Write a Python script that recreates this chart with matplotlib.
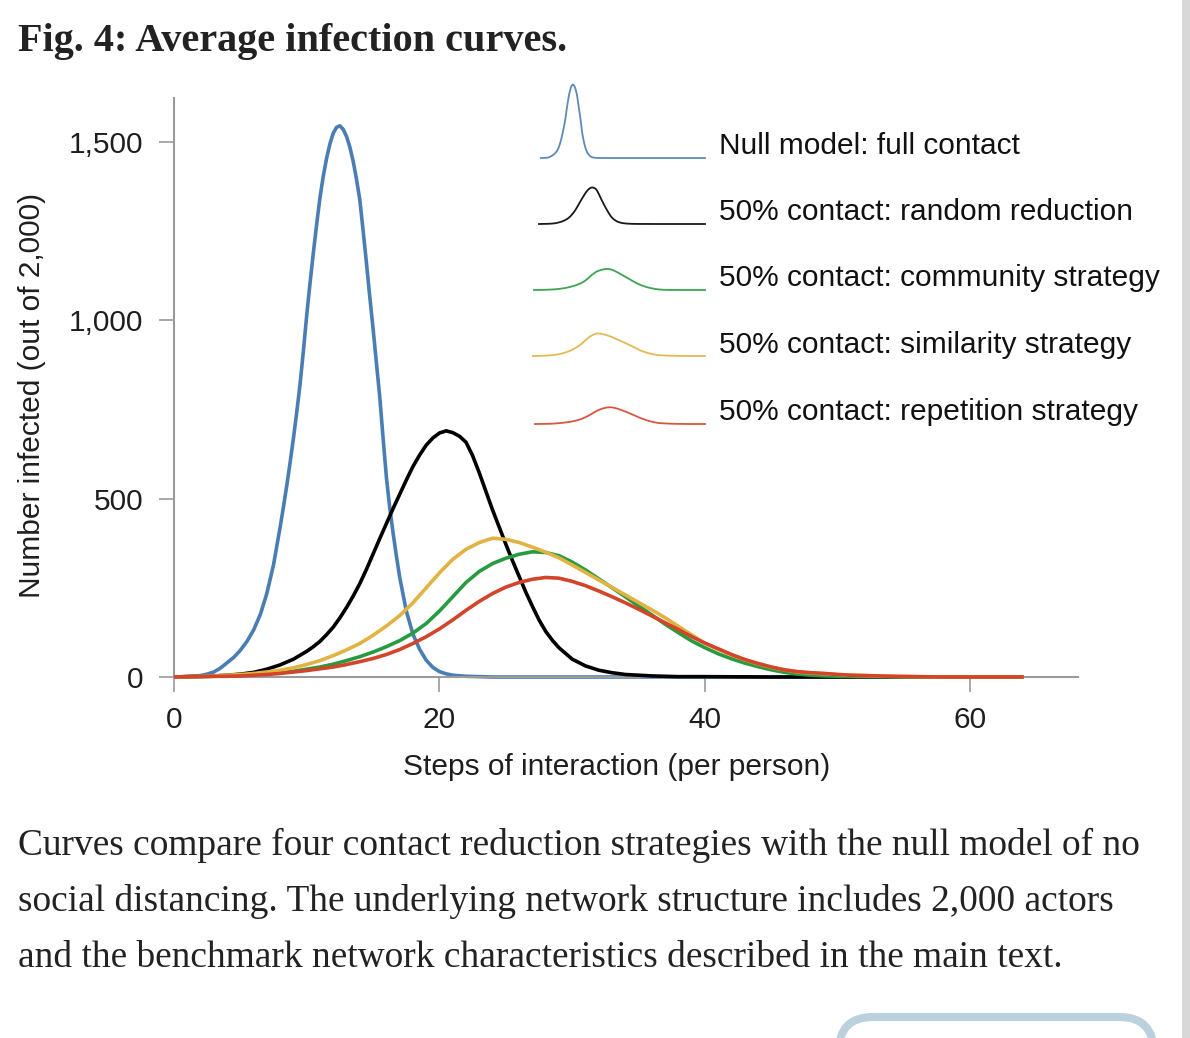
import matplotlib
matplotlib.use("Agg")
import matplotlib.pyplot as plt
from matplotlib.patches import Rectangle, FancyBboxPatch

# values (steps of interaction -> number infected)
null_x = [0, 1, 2, 2.5, 3, 3.5, 4, 4.5, 5, 5.5, 6, 6.5, 7, 7.5, 8, 8.25, 8.5, 8.75, 9, 9.25,
          9.5, 9.75, 10, 10.25, 10.5, 10.75, 11, 11.25, 11.5, 11.75, 12, 12.25, 12.5, 12.75,
          13, 13.25, 13.5, 13.75, 14, 14.25, 14.5, 14.75, 15, 15.25, 15.5, 15.75, 16, 16.25,
          16.5, 16.75, 17, 17.5, 18, 18.5, 19, 19.5, 20, 20.5, 21, 22, 23, 24, 30, 40, 50, 64]
null_y = [0, 1, 4, 8, 14, 25, 40, 55, 75, 100, 132, 175, 235, 315, 421, 478, 538, 602, 670, 743,
          822, 915, 1015, 1105, 1190, 1270, 1345, 1405, 1455, 1495, 1525, 1541, 1545, 1535,
          1515, 1485, 1445, 1395, 1337, 1250, 1160, 1065, 975, 880, 785, 670, 560, 475,
          405, 340, 280, 185, 120, 78, 47, 27, 15, 9, 5, 2, 1, 0, 0, 0, 0, 0]

random_x = [0, 1, 2, 3, 4, 5, 6, 7, 8, 9, 10, 10.5, 11, 11.5, 12, 12.5, 13, 13.5, 14, 14.5,
            15, 15.5, 16, 16.5, 17, 17.5, 18, 18.5, 19, 19.5, 20, 20.5, 21, 21.5, 22, 22.5,
            23, 23.5, 24, 24.5, 25, 25.5, 26, 26.5, 27, 27.5, 28, 28.5, 29, 30, 31, 32, 33,
            34, 35, 36, 37, 38, 40, 45, 50, 64]
random_y = [0, 1, 2, 3, 5, 8, 13, 22, 34, 50, 72, 85, 100, 119, 140, 166, 195, 227, 262, 302,
            345, 388, 430, 472, 512, 552, 590, 622, 650, 670, 684, 690, 685, 675, 658, 620,
            572, 520, 468, 420, 372, 326, 282, 238, 198, 160, 128, 103, 82, 50, 31, 19, 12,
            7, 5, 3, 2, 1, 1, 0, 0, 0]

community_x = list(range(0, 51)) + [52, 55, 64]
community_y = [0, 1, 1, 2, 3, 5, 7, 9, 12, 16, 22, 28, 36, 46, 57, 70, 85, 102, 123, 150,
               185, 225, 265, 296, 318, 333, 344, 351, 349, 340, 322, 300, 275, 250, 225, 199,
               174, 148, 124, 101, 82, 65, 51, 39, 29, 20, 13, 8, 5, 3, 2, 1, 0, 0]

similarity_x = list(range(0, 55)) + [56, 58, 64]
similarity_y = [0, 1, 2, 3, 5, 7, 10, 14, 19, 26, 35, 46, 60, 76, 94, 117, 143, 172, 208, 250,
                292, 330, 358, 377, 389, 386, 377, 364, 350, 334, 314, 293, 272, 251, 230, 209,
                188, 166, 142, 118, 94, 78, 62, 48, 37, 27, 20, 14, 11, 9, 7, 5, 4, 3, 2,
                1, 0, 0]

repetition_x = list(range(0, 55)) + [56, 58, 64]
repetition_y = [0, 1, 1, 2, 2, 3, 5, 7, 10, 14, 18, 23, 28, 35, 43, 52, 63, 77, 94, 113,
                135, 160, 187, 212, 234, 252, 265, 274, 279, 277, 268, 256, 241, 225, 208, 190,
                171, 152, 133, 113, 95, 79, 63, 49, 38, 28, 20, 15, 12, 10, 7, 5, 4, 3, 2,
                1, 0, 0]

labels = ["Null model: full contact",
          "50% contact: random reduction",
          "50% contact: community strategy",
          "50% contact: similarity strategy",
          "50% contact: repetition strategy"]
series = [(null_x, null_y), (random_x, random_y), (community_x, community_y),
          (similarity_x, similarity_y), (repetition_x, repetition_y)]
colors = ["#4a7db3", "#000000", "#289a40", "#e2b242", "#d3452a"]
zorders = [2, 3, 3.5, 4, 5]

y_ticks = [0, 500, 1000, 1500]
y_ticklabels = ["0", "500", "1,000", "1,500"]
x_ticks = [0, 20, 40, 60]

W, H = 1190, 1038
fig = plt.figure(figsize=(W / 100, H / 100), dpi=100)
fig.patch.set_facecolor("white")

sans = "Liberation Sans"
serif = "Liberation Serif"
txt = "#1e1e1e"
grey = "#9a9a9a"

ax = fig.add_axes([174 / W, 1 - 677 / H, (1078 - 174) / W, (677 - 98) / H])
for (xs, ys), c, z in zip(series, colors, zorders):
    ax.plot(xs, ys, color=c, lw=2.6, zorder=z, clip_on=False, solid_capstyle="butt",
            solid_joinstyle="round")

ax.set_xlim(0, 68.1)
ax.set_ylim(0, 1623)
ax.set_xticks(x_ticks)
ax.set_xticklabels([str(v) for v in x_ticks])
ax.set_yticks(y_ticks)
ax.set_yticklabels(y_ticklabels)
for s in ["top", "right"]:
    ax.spines[s].set_visible(False)
for s in ["left", "bottom"]:
    ax.spines[s].set_color(grey)
    ax.spines[s].set_linewidth(1.5)
ax.tick_params(axis="both", length=11, width=1.2, color=grey, labelsize=21.5,
               labelcolor=txt)
ax.tick_params(axis="y", pad=11)
ax.tick_params(axis="x", pad=10)
for lab in ax.get_xticklabels() + ax.get_yticklabels():
    lab.set_fontfamily(sans)

fig.text(617 / W, 1 - 767 / H, "Steps of interaction (per person)", ha="center", va="center",
         fontsize=21.5, family=sans, color=txt)
fig.text(32 / W, 1 - 395 / H, "Number infected (out of 2,000)", ha="center", va="center",
         rotation=90, fontsize=21.5, family=sans, color=txt)

# legend: small copies of each curve with a label
icon_left = [541, 539, 534, 533, 535]
icon_base = [158, 224, 290, 356, 424]
icon_scale = [0.0475, 0.053, 0.06, 0.058, 0.06]   # pixels per infected person
label_base = [153.5, 220, 286.5, 353, 419.5]
for i, ((xs, ys), c) in enumerate(zip(series, colors)):
    hpx = 90
    iax = fig.add_axes([icon_left[i] / W, 1 - icon_base[i] / H, (705 - icon_left[i]) / W, hpx / H])
    iax.set_facecolor("none")
    iax.axis("off")
    iax.plot(xs, ys, color=c, lw=1.3, clip_on=False, alpha=0.9)
    iax.set_xlim(0, 64)
    iax.set_ylim(0, hpx / icon_scale[i])
    fig.text(719 / W, 1 - label_base[i] / H, labels[i], ha="left", va="baseline",
             fontsize=21.5, family=sans, color="#111111")

# page text around the figure
fig.text(18 / W, 1 - 51 / H, "Fig. 4: Average infection curves.", ha="left", va="baseline",
         fontsize=29, weight="bold", family=serif, color="#222222")
caption = ["Curves compare four contact reduction strategies with the null model of no",
           "social distancing. The underlying network structure includes 2,000 actors",
           "and the benchmark network characteristics described in the main text."]
for line, yb in zip(caption, [855, 911, 967]):
    fig.text(18 / W, 1 - yb / H, line, ha="left", va="baseline", fontsize=26.9,
             family=serif, color="#222222")

# scrollbar strip and the top of a button
fig.add_artist(Rectangle((1181.7 / W, 0), (W - 1181.7) / W, 1, transform=fig.transFigure,
                         facecolor="#d8d8d8", edgecolor="none"))
fig.add_artist(FancyBboxPatch((8.39, -0.5), 3.15, 0.71,
                              boxstyle="round,pad=0,rounding_size=0.34",
                              transform=fig.dpi_scale_trans, facecolor="none",
                              edgecolor="#bcd1de", linewidth=5.8))

fig.savefig("out.png", dpi=100, facecolor="white")
